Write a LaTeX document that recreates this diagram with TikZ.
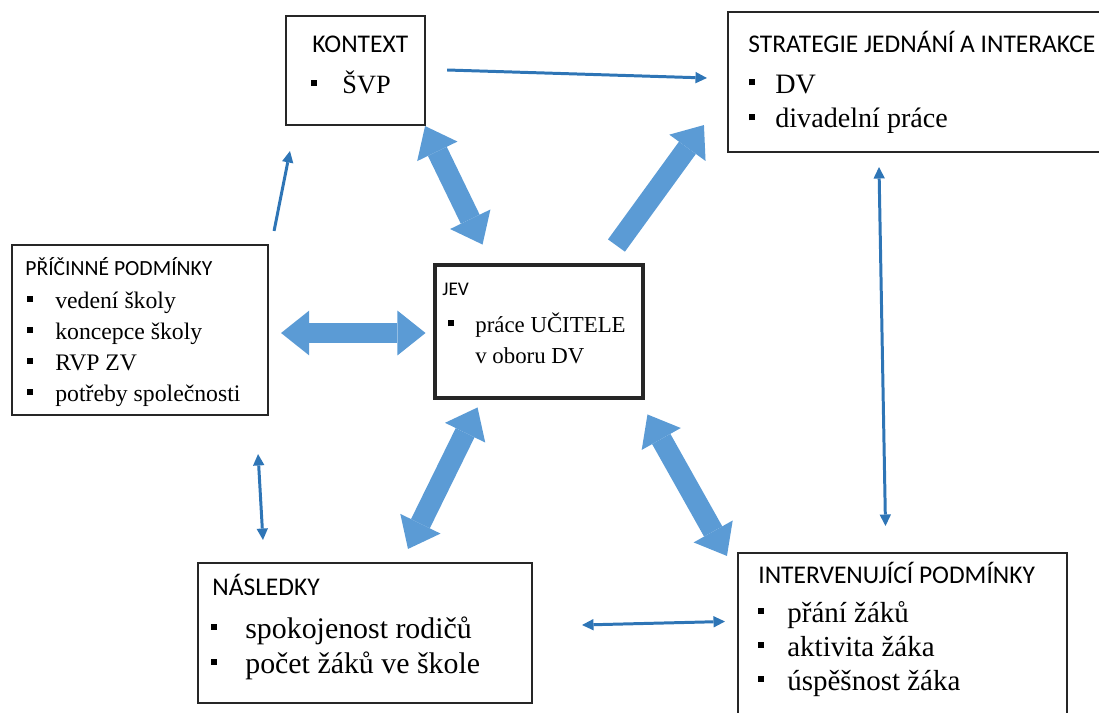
\documentclass[tikz,border=0pt]{standalone}
\usepackage{fontspec}
\setmainfont{Liberation Serif}
\newfontfamily\headfont{Carlito}
\usetikzlibrary{arrows.meta,fit}
\definecolor{blockblue}{HTML}{5B9BD5}
\definecolor{lineblue}{HTML}{2E75B6}
\newcommand\fs[1]{\fontsize{#1}{#1}\selectfont}
\newcommand\blt[1][.95em]{\llap{\rule[\dimexpr.38em-1.7pt]{3.4pt}{3.4pt}\hspace{#1}}}

\begin{document}
\begin{tikzpicture}[x=0.02cm, y=-0.02cm,
	box/.style={draw=black!85, line width=1.2pt, inner sep=0pt},
	head/.style={anchor=base west, inner sep=0pt, font=\headfont\fs{14.5}},
	itm/.style={anchor=base west, inner sep=0pt},
	link/.style={draw=lineblue, line width=1.7pt,
		>={Triangle[length=6.5pt, width=6.5pt, line width=0pt]}},
	bigarrow/.style={draw=blockblue, line width=11.9pt,
		>={Triangle[length=16pt, width=25.5pt, line width=0pt]}}]
\clip (0,0) rectangle (1099,713);
\node[box, fit={(286,16) (425,125)}] (kontext) {};
\node[box, fit={(728,12) (1110,152)}] (strategie) {};
\node[box, fit={(12,245) (268,415)}] (pricinne) {};
\node[box, line width=2.8pt, fit={(435,265) (643,398)}] (jev) {};
\node[box, fit={(198,563) (532,703)}] (nasledky) {};
\node[box, fit={(738,553) (1067,730)}] (interv) {};
% texts
\node[head] (kontext-h) at (312,53) {KONTEXT};
\node[itm, font=\fs{15}] (kontext-1) at (342,93) {\blt ŠVP};
\node[head] (strategie-h) at (748,53) {STRATEGIE JEDNÁNÍ A INTERAKCE};
\foreach \t [count=\i from 0] in {DV, divadelní práce}
	\node[itm, font=\fs{16}] (strategie-\i) at (775, 93+35*\i) {\blt[11.5pt]\t};
\node[head, font=\headfont\fs{12.3}] (pricinne-h) at (25,275) {PŘÍČINNÉ PODMÍNKY};
\foreach \t [count=\i from 0] in {vedení školy, koncepce školy, RVP ZV, potřeby společnosti}
	\node[itm, font=\fs{13.5}] (pricinne-\i) at (55, 308+31*\i) {\blt\t};
\node[head, font=\headfont\fs{11}] (jev-h) at (442,295) {JEV};
\node[itm, font=\fs{13}] (jev-1) at (475,332) {\blt práce UČITELE};
\node[itm, font=\fs{13}] (jev-2) at (475,363) {v oboru DV};
\node[head] (nasledky-h) at (212,595) {NÁSLEDKY};
\foreach \t [count=\i from 0] in {spokojenost rodičů, počet žáků ve škole}
	\node[itm, font=\fs{17}] (nasledky-\i) at (245, 638+35*\i) {\blt\t};
\node[head] (interv-h) at (758,583) {INTERVENUJÍCÍ PODMÍNKY};
\foreach \t [count=\i from 0] in {přání žáků, aktivita žáka, úspěšnost žáka}
	\node[itm, font=\fs{16.5}] (interv-\i) at (787, 622+34*\i) {\blt[13.5pt]\t};
% thin links
\draw[link, ->] ([shift={(21,-0.5)}]kontext.east) -- ([shift={(-20,-4)}]strategie.west);
\draw[link, ->] ([shift={(5,-13)}]pricinne.north east) -- ([shift={(5,25)}]kontext.south west);
\draw[link, <->] ([shift={(-11,38)}]pricinne.south east) -- ([shift={(66,-22)}]nasledky.north west);
\draw[link, <->] ([shift={(49,-8)}]nasledky.east) -- ([shift={(-12,-20)}]interv.west);
\draw[link, <->] ([shift={(-40,14)}]strategie.south) -- ([shift={(-17,-26)}]interv.north);
% block arrows
\draw[bigarrow, <->] ([shift={(-1,0)}]kontext.south east) -- ([shift={(50,-18)}]jev.north west);
\draw[bigarrow, ->] ([shift={(-29,-17)}]jev.north east) -- ([shift={(-23,-28)}]strategie.south west);
\draw[bigarrow, <->] ([shift={(12,3)}]pricinne.east) -- ([shift={(-7,1.5)}]jev.west);
\draw[bigarrow, <->] ([shift={(45,7)}]jev.south west) -- ([shift={(43,-13)}]nasledky.north);
\draw[bigarrow, <->] ([shift={(2,14)}]jev.south east) -- ([shift={(-10,4)}]interv.north west);
\end{tikzpicture}
\end{document}
